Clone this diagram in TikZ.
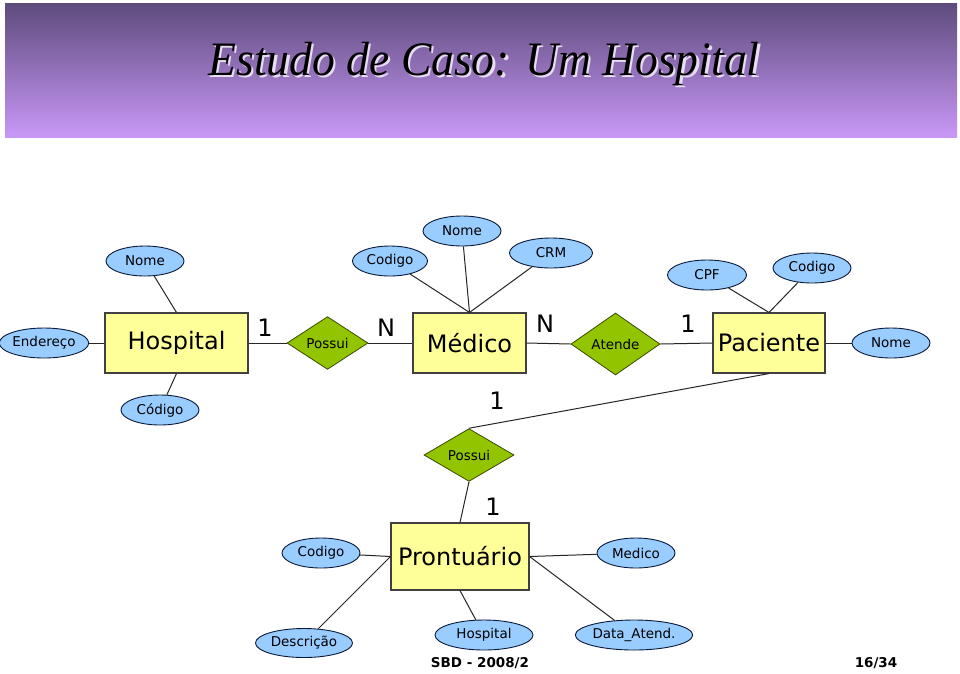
\documentclass[tikz,border=0pt]{standalone}
\usepackage{fontspec}
\setmainfont{DejaVu Sans}
\newfontfamily\titlefont{Liberation Serif}
\usetikzlibrary{shapes.geometric}
\definecolor{entfill}{HTML}{FFFF99}
\definecolor{entdraw}{HTML}{404040}
\definecolor{relfill}{HTML}{93C400}
\definecolor{reldraw}{HTML}{3A4A00}
\definecolor{attfill}{HTML}{99CCFF}
\definecolor{attdraw}{HTML}{0A1A3A}
\definecolor{bandtop}{HTML}{5E4B7C}
\definecolor{bandbot}{HTML}{C898F7}
\definecolor{shadowcol}{HTML}{E6DDF0}
\newcommand{\titletext}{\titlefont\itshape\fontsize{48}{52}\selectfont Estudo de Caso: Um Hospital}
\tikzset{
  entity/.style 2 args={draw=entdraw, fill=entfill, line width=1.1pt, rectangle, inner sep=0pt,
    minimum width=#1, minimum height=#2, font=\fontsize{24}{28}\selectfont},
  rel/.style 2 args={draw=reldraw, fill=relfill, line width=0.8pt, diamond, inner sep=0pt,
    minimum width=#1, minimum height=#2, font=\fontsize{13.5}{15}\selectfont},
  attr/.style 2 args={draw=attdraw, fill=attfill, line width=0.9pt, ellipse, inner sep=0pt,
    minimum width=#1, minimum height=#2, font=\fontsize{13.5}{15}\selectfont},
  card/.style={font=\fontsize{24}{28}\selectfont, inner sep=0pt},
  conn/.style={draw=black!85, line width=1pt},
  foot/.style={font=\bfseries\fontsize{13.5}{16}\selectfont, inner sep=0pt}
}
\begin{document}
\begin{tikzpicture}[x=1pt,y=-1pt]
\useasboundingbox (0,0) rectangle (960,673);
\fill[white] (0,0) rectangle (960,673);
% header band
\shade[top color=bandtop, bottom color=bandbot] (5,3) rectangle (957,137);
\node[inner sep=0pt, anchor=base] (title) at (484,75)
  {\scalebox{0.95}[1]{\makebox[0pt][l]{\hspace{2.5pt}\raisebox{-2.5pt}{\color{shadowcol}\titletext}}\titletext}};

% entities
\node[entity={143pt}{60pt}] (hosp) at (176.5,343) {Hospital};
\node[entity={113pt}{60pt}] (med) at (469.5,343) {Médico};
\node[entity={112pt}{60pt}] (pac) at (769,343) {Paciente};
\node[entity={138pt}{67pt}] (pront) at (460,556.5) {Prontuário};

% relationships
\node[rel={81pt}{44pt}] (pos1) at (327.5,343) {Possui};
\node[rel={89pt}{62pt}] (atd) at (615.5,344) {Atende};
\node[rel={90pt}{45pt}] (pos2) at (469,455) {Possui};

% attributes
\node[attr={78pt}{30pt}] (hnome) at (145,261) {Nome};
\node[attr={78pt}{30pt}] (hend) at (44,343) {Endereço};
\node[attr={78pt}{30pt}] (hcod) at (160,410) {Código};
\node[attr={75pt}{30pt}] (mcod) at (390,261) {Codigo};
\node[attr={78pt}{30pt}] (mnome) at (462,231) {Nome};
\node[attr={83pt}{30pt}] (mcrm) at (551,253) {CRM};
\node[attr={79pt}{30pt}] (pcpf) at (707,275) {CPF};
\node[attr={78pt}{30pt}] (pcod) at (812,268) {Codigo};
\node[attr={78pt}{30pt}] (pnome) at (891,343) {Nome};
\node[attr={78pt}{30pt}] (rcod) at (321,553) {Codigo};
\node[attr={78pt}{30pt}] (rmed) at (636,553) {Medico};
\node[attr={97pt}{29pt}] (rdesc) at (304,643) {Descrição};
\node[attr={98pt}{30pt}] (rhosp) at (484,635) {Hospital};
\node[attr={99pt}{30pt}] (rdata) at (634,635) {Data\_Atend.};

% connectors
\draw[conn] (hnome) -- (hosp.north);
\draw[conn] (hend) -- (hosp.west);
\draw[conn] (hcod) -- (hosp.south);
\draw[conn] (hosp.east) -- (pos1.west);
\draw[conn] (pos1.east) -- (med.west);
\draw[conn] (mcod) -- (med.north);
\draw[conn] (mnome) -- (med.north);
\draw[conn] (mcrm) -- (med.north);
\draw[conn] (med.east) -- (atd.west);
\draw[conn] (atd.east) -- (pac.west);
\draw[conn] (pcpf) -- (pac.north);
\draw[conn] (pcod) -- (pac.north);
\draw[conn] (pac.east) -- (pnome);
\draw[conn] (pac.south) -- (pos2.north);
\draw[conn] (pos2.south) -- (pront.north);
\draw[conn] (rcod) -- (pront.west);
\draw[conn] (rdesc) -- (pront.west);
\draw[conn] (rhosp) -- (pront.south);
\draw[conn] (rmed) -- (pront.east);
\draw[conn] (rdata) -- (pront.east);

% cardinalities
\node[card] (c1) at (265,328) {1};
\node[card] (c2) at (386,328) {N};
\node[card] (c3) at (545,324) {N};
\node[card] (c4) at (688,324) {1};
\node[card] (c5) at (497,401) {1};
\node[card] (c6) at (493,507) {1};

% footer
\node[foot] (f1) at (480,663) {SBD - 2008/2};
\node[foot] (f2) at (876,663) {16/34};
\end{tikzpicture}
\end{document}
